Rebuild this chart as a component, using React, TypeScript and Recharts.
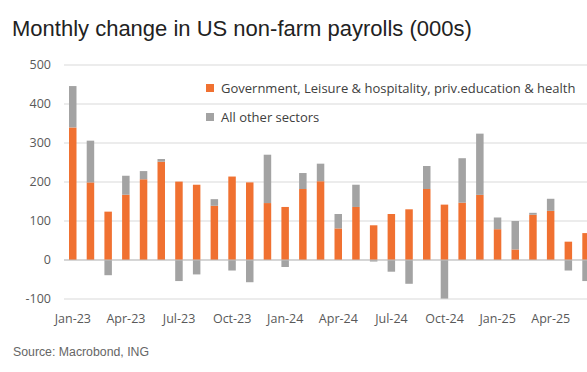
import { Bar, BarChart, CartesianGrid, ReferenceLine, XAxis, YAxis } from 'recharts';

const months = [
  'Jan-23', 'Feb-23', 'Mar-23', 'Apr-23', 'May-23', 'Jun-23', 'Jul-23', 'Aug-23', 'Sep-23', 'Oct-23',
  'Nov-23', 'Dec-23', 'Jan-24', 'Feb-24', 'Mar-24', 'Apr-24', 'May-24', 'Jun-24', 'Jul-24', 'Aug-24',
  'Sep-24', 'Oct-24', 'Nov-24', 'Dec-24', 'Jan-25', 'Feb-25', 'Mar-25', 'Apr-25', 'May-25', 'Jun-25',
];

// government, leisure & hospitality, private education & health
const govLeisureHealth = [
  340, 199, 124, 167, 207, 252, 201, 193, 139, 214,
  199, 146, 136, 182, 202, 81, 136, 89, 118, 130,
  182, 142, 147, 167, 79, 27, 116, 126, 47, 69,
];

const otherSectors = [
  106, 107, -39, 49, 21, 7, -54, -37, 17, -27,
  -57, 124, -18, 41, 45, 37, 57, -4, -30, -61,
  59, -99, 114, 157, 30, 73, 5, 31, -27, -54,
];

const yTicks = [-100, 0, 100, 200, 300, 400, 500];

const ORANGE = '#f07131';
const GREY = '#a3a3a3';

const seriesNames = {
  gov: 'Government, Leisure & hospitality, priv.education & health',
  other: 'All other sectors',
};

function LegendBox() {
  const items = [
    { name: seriesNames.gov, color: ORANGE },
    { name: seriesNames.other, color: GREY },
  ];
  return (
    <div
      style={{
        position: 'absolute',
        left: 206,
        top: 73,
        fontFamily: '"Open Sans", sans-serif',
        fontSize: 13,
        color: '#404040',
      }}
    >
      {items.map((it) => (
        <div key={it.name} style={{ display: 'flex', alignItems: 'center', height: 29 }}>
          <span style={{ width: 8, height: 8, background: it.color, marginRight: 7, display: 'inline-block' }} />
          <span>{it.name}</span>
        </div>
      ))}
    </div>
  );
}

export default function App() {
  const data = months.map((m, i) => ({
    month: m,
    gov: govLeisureHealth[i],
    other: otherSectors[i],
  }));

  return (
    <div
      style={{
        position: 'fixed',
        left: 0,
        top: 0,
        width: 587,
        height: 372,
        overflow: 'hidden',
        background: '#fff',
        fontFamily: '"Liberation Sans", Arial, sans-serif',
      }}
    >
      <div style={{ position: 'absolute', left: 12, top: 16, fontSize: 22, color: '#222' }}>
        Monthly change in US non-farm payrolls (000s)
      </div>
      <div style={{ position: 'absolute', left: 0, top: 0 }}>
        <BarChart
          width={595}
          height={372}
          data={data}
          stackOffset="sign"
          margin={{ top: 65, right: 0, bottom: 43, left: 8 }}
        >
          <CartesianGrid vertical={false} stroke="#d9d9d9" />
          <XAxis
            dataKey="month"
            interval={2}
            axisLine={false}
            tickLine={false}
            height={30}
            tickMargin={9}
            tick={{ fontSize: 12.5, fill: '#595959', fontFamily: '"Open Sans", sans-serif' }}
          />
          <YAxis
            domain={[-100, 500]}
            ticks={yTicks}
            width={56}
            axisLine={false}
            tickLine={false}
            tickMargin={7}
            tick={{ fontSize: 12.5, fill: '#595959', fontFamily: '"Open Sans", sans-serif' }}
          />
          <ReferenceLine y={0} stroke="#bfbfbf" />
          <Bar dataKey="gov" name={seriesNames.gov} stackId="a" fill={ORANGE} barSize={7.5} isAnimationActive={false} />
          <Bar dataKey="other" name={seriesNames.other} stackId="a" fill={GREY} barSize={7.5} isAnimationActive={false} />
        </BarChart>
      </div>
      <LegendBox />
      <div style={{ position: 'absolute', left: 13, top: 345, fontSize: 12.3, color: '#666' }}>
        Source: Macrobond, ING
      </div>
    </div>
  );
}
